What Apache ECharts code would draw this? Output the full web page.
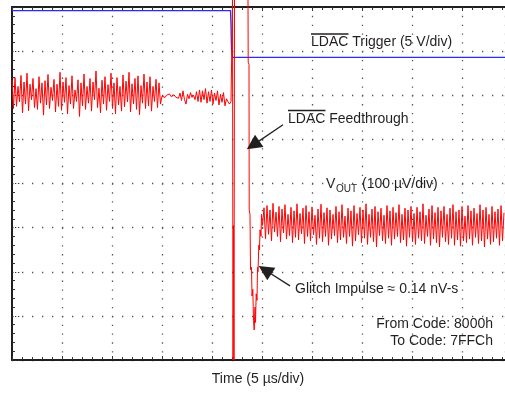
<!DOCTYPE html>
<html>
<head>
<meta charset="utf-8">
<script src="https://cdn.jsdelivr.net/npm/echarts@6/dist/echarts.min.js"></script>
<style>
  html, body { margin: 0; padding: 0; background: #fff; }
  #scope { width: 505px; height: 393px; }
</style>
</head>
<body>
<div id="scope"></div>
<script>
// time in us (5 us/div), amplitude in screen divisions (8 div tall)
var dt = 0.15;

// VOUT before the LDAC edge, starts at t = 0
var preNoiseA = [
  6.35, 5.70, 6.40, 5.75, 6.20, 5.85, 6.45, 5.60, 6.30, 5.80,
  6.50, 5.65, 6.25, 5.90, 6.38, 5.72, 6.15, 5.68, 6.42, 5.82,
  6.28, 5.55, 6.33, 5.78, 6.47, 5.70, 6.18, 5.88, 6.36, 5.62,
  6.25, 5.75, 6.52, 5.66, 6.30, 5.84, 6.40, 5.58, 6.22, 5.80,
  6.44, 5.70, 6.12, 5.86, 6.35, 5.52, 6.28, 5.76, 6.48, 5.68,
  6.20, 5.82, 6.38, 5.64, 6.30, 5.90, 6.55, 5.72, 6.16, 5.60,
  6.34, 5.80, 6.42, 5.66, 6.24, 5.86, 6.50, 5.70, 6.28, 5.58,
  6.40, 5.78, 6.20, 5.64, 6.46, 5.74, 6.32, 5.85, 6.52, 5.62,
  6.26, 5.80, 6.38, 5.68, 6.44, 5.56, 6.22, 5.82, 6.48, 5.70,
  6.30, 5.76, 6.42, 5.64, 6.20, 5.86, 6.36, 5.72, 6.28, 5.80
];
// quieter stretch, starts at t = 15
var preNoiseB = [
  5.98, 6.02, 5.95, 6.00, 5.96, 6.03, 5.97, 5.94, 6.01, 5.96, 5.99, 5.93,
  6.05, 5.88, 6.10, 5.90, 5.80, 6.02, 5.92, 6.06, 5.95, 6.00, 5.90, 6.08,
  5.86, 6.12, 5.84, 6.10, 5.90, 6.15, 5.82, 6.08, 5.86, 6.12, 5.80, 6.05,
  5.88, 6.10, 5.78, 6.02, 5.84, 6.06, 5.76, 5.92, 5.85, 5.80, 5.86
];
// feedthrough spikes and glitch, [t, div]
var glitchPts = [
  [21.95, 5.85], [22.05, 8.16], [22.1, 0], [22.15, 3.05], [22.2, 0], [22.25, 8.16],
  [23.0, '-'],
  [23.6, 8.16], [23.62, 6.75], [23.7, 6.7], [23.72, 3.4], [23.8, 3.3],
  [23.85, 2.05], [23.95, 2.1], [24.0, 1.45], [24.08, 1.6], [24.15, 0.9],
  [24.22, 0.68], [24.3, 1.2], [24.35, 0.85], [24.42, 1.5], [24.5, 1.35],
  [24.55, 2.1], [24.6, 2.0], [24.68, 2.6], [24.75, 2.5], [24.8, 2.95],
  [24.9, 2.8], [24.95, 3.3], [25.05, 3.05]
];
// VOUT after the code change, starts at t = 25.2
var postNoise = [
  3.45, 2.75, 3.50, 2.85, 3.40, 2.70, 3.55, 2.90, 3.35, 2.80,
  3.48, 2.68, 3.42, 2.88, 3.52, 2.74, 3.30, 2.82, 3.46, 2.66,
  3.38, 2.78, 3.54, 2.72, 3.32, 2.86, 3.44, 2.64, 3.50, 2.80,
  3.36, 2.70, 3.47, 2.84, 3.28, 2.62, 3.42, 2.76, 3.53, 2.68,
  3.34, 2.80, 3.45, 2.60, 3.40, 2.74, 3.30, 2.82, 3.48, 2.66,
  3.36, 2.72, 3.52, 2.78, 3.26, 2.64, 3.44, 2.80, 3.38, 2.58,
  3.50, 2.70, 3.32, 2.84, 3.46, 2.66, 3.40, 2.76, 3.54, 2.62,
  3.30, 2.78, 3.42, 2.68, 3.48, 2.56, 3.36, 2.82, 3.44, 2.70,
  3.28, 2.64, 3.50, 2.76, 3.38, 2.60, 3.46, 2.74, 3.34, 2.80,
  3.52, 2.66, 3.30, 2.72, 3.44, 2.58, 3.40, 2.78, 3.48, 2.68,
  3.32, 2.62, 3.46, 2.76, 3.36, 2.70, 3.54, 2.64, 3.28, 2.80,
  3.42, 2.60, 3.50, 2.74, 3.34, 2.66, 3.46, 2.56, 3.38, 2.78,
  3.48, 2.68, 3.30, 2.62, 3.44, 2.76, 3.52, 2.60, 3.36, 2.72,
  3.40, 2.58, 3.48, 2.70, 3.26, 2.66, 3.50, 2.74, 3.38, 2.60,
  3.44, 2.78, 3.32, 2.64, 3.52, 2.70, 3.40, 2.56, 3.46, 2.74,
  3.30, 2.62, 3.48, 2.68, 3.36, 2.76, 3.42, 2.60, 3.50, 2.70,
  3.34
];
// LDAC trigger trace
var triggerPts = [
  [0, 7.92], [21.85, 7.92], [21.9, 7.6], [21.95, 7.05], [22.05, 6.86], [49.3, 6.86]
];
// arrows [tail, tip]
var arrowFeed = [[27.1, 5.33], [24.1, 4.87]];
var arrowGlitch = [[27.8, 1.68], [25.3, 2.04]];

function sampled(t0, vals) {
    var out = [];
    for (var i = 0; i < vals.length; i++) {
        out.push([+(t0 + i * dt).toFixed(3), vals[i]]);
    }
    return out;
}

var vout = [].concat(sampled(0, preNoiseA), sampled(15, preNoiseB), glitchPts, sampled(25.2, postNoise));

var FONT = '14px "Liberation Sans", Arial, sans-serif';
var INK = '#231f20';

var chart = echarts.init(document.getElementById('scope'), null, { renderer: 'canvas' });

var frameAxis = {
    type: 'value',
    min: 0,
    max: 49.3,
    interval: 5,
    axisLine: { show: true, lineStyle: { color: '#1e1e1e', width: 2 } },
    axisTick: { show: true, inside: true, length: 4, lineStyle: { color: '#333' } },
    minorTick: { show: true, splitNumber: 5, length: 3, lineStyle: { color: '#333' } },
    axisLabel: { show: false }
};

option = {
    animation: false,
    grid: { left: 12, right: 0, top: 7, bottom: 33 },
    xAxis: [
        Object.assign({}, frameAxis, {
            position: 'bottom',
            splitLine: { show: true, lineStyle: { color: '#555', width: 1.3, type: [1.3, 7.525] } }
        }),
        Object.assign({}, frameAxis, {
            position: 'top',
            splitLine: { show: false }
        })
    ],
    yAxis: {
        type: 'value',
        min: 0,
        max: 8,
        interval: 1,
        axisLine: { show: true, lineStyle: { color: '#1e1e1e', width: 2 } },
        axisTick: { show: true, inside: true, length: 8, lineStyle: { color: '#333', type: [1.3, 1.7] } },
        minorTick: { show: true, splitNumber: 5, length: 3, lineStyle: { color: '#333' } },
        axisLabel: { show: false },
        splitLine: { show: true, lineStyle: { color: '#555', width: 1.3, type: [1.3, 8.7] } }
    },
    series: [
        {
            name: 'LDAC Trigger',
            type: 'line',
            data: triggerPts,
            showSymbol: false,
            clip: false,
            lineStyle: { color: '#2a2aff', width: 1.3 }
        },
        {
            name: 'VOUT',
            type: 'line',
            data: vout,
            showSymbol: false,
            clip: false,
            connectNulls: false,
            lineStyle: { color: '#ff0000', width: 1 },
            markLine: {
                silent: true,
                symbol: ['none', 'triangle'],
                symbolSize: 15,
                label: { show: false },
                lineStyle: { color: INK, width: 1.3, type: 'solid' },
                itemStyle: { color: INK },
                data: [
                    [{ coord: arrowFeed[0] }, { coord: arrowFeed[1] }],
                    [{ coord: arrowGlitch[0] }, { coord: arrowGlitch[1] }]
                ]
            }
        }
    ],
    graphic: [
        { type: 'text', x: 311, y: 42, style: { text: 'LDAC Trigger (5 V/div)', font: FONT, fill: INK, verticalAlign: 'middle' } },
        { type: 'line', shape: { x1: 311, y1: 34, x2: 348.5, y2: 34 }, style: { stroke: INK, lineWidth: 1.4 } },
        { type: 'text', x: 288, y: 119, style: { text: 'LDAC Feedthrough', font: FONT, fill: INK, verticalAlign: 'middle' } },
        { type: 'line', shape: { x1: 288, y1: 110.5, x2: 325.5, y2: 110.5 }, style: { stroke: INK, lineWidth: 1.4 } },
        { type: 'text', x: 326, y: 184, style: { text: 'V', font: FONT, fill: INK, verticalAlign: 'middle' } },
        { type: 'text', x: 336, y: 189, style: { text: 'OUT', font: '10px "Liberation Sans", Arial, sans-serif', fill: INK, verticalAlign: 'middle' } },
        { type: 'text', x: 362, y: 184, style: { text: '(100 µV/div)', font: FONT, fill: INK, verticalAlign: 'middle' } },
        { type: 'text', x: 295, y: 289, style: { text: 'Glitch Impulse ≈ 0.14 nV-s', font: FONT, fill: INK, verticalAlign: 'middle' } },
        { type: 'text', x: 493, y: 324, style: { text: 'From Code: 8000h', font: FONT, fill: INK, align: 'right', verticalAlign: 'middle' } },
        { type: 'text', x: 493, y: 341, style: { text: 'To Code: 7FFCh', font: FONT, fill: INK, align: 'right', verticalAlign: 'middle' } },
        { type: 'text', x: 258, y: 379, style: { text: 'Time (5 µs/div)', font: FONT, fill: INK, align: 'center', verticalAlign: 'middle' } }
    ]
};

if (option && typeof option === "object") {
    chart.setOption(option, true);
}
</script>
</body>
</html>
